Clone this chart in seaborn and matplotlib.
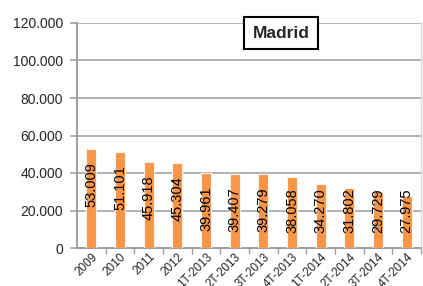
import matplotlib
matplotlib.use("Agg")
import matplotlib.pyplot as plt
import matplotlib.ticker as mticker
import seaborn as sns
import pandas as pd

periods = ["2009", "2010", "2011", "2012", "1T-2013", "2T-2013", "3T-2013", "4T-2013",
           "1T-2014", "2T-2014", "3T-2014", "4T-2014"]
values = [53009, 51101, 45918, 45304, 39961, 39407, 39279, 38058,
          34270, 31802, 29729, 27975]
y_ticks = [0, 20000, 40000, 60000, 80000, 100000, 120000]
title = "Madrid"

sns.set_style("white")
plt.rcParams["font.family"] = ["Liberation Sans", "DejaVu Sans"]

df = pd.DataFrame({"periodo": periods, "valor": values})

fig = plt.figure(figsize=(4.23, 2.86), dpi=100)
ax = fig.add_axes([77 / 423, 38 / 286, 344 / 423, 225 / 286])

sns.barplot(data=df, x="periodo", y="valor", color="#f79646", width=0.36,
            saturation=1, edgecolor="#f4f4f4", linewidth=0.8, ax=ax, zorder=3)

ax.set_ylim(0, 120000)
ax.set_yticks(y_ticks)
ax.yaxis.set_major_formatter(mticker.FuncFormatter(
    lambda v, p: f"{int(v):,}".replace(",", ".")))
ax.grid(axis="y", color="#a6a6a6", linewidth=1.2, zorder=0)
ax.set_xlabel("")
ax.set_ylabel("")

ax.spines["top"].set_visible(False)
ax.spines["left"].set_color("#a0a0a0")
ax.spines["left"].set_linewidth(1.5)
ax.spines["bottom"].set_color("#a0a0a0")
ax.spines["bottom"].set_linewidth(1.5)
ax.spines["right"].set_color("#d9d9d9")
ax.spines["right"].set_linewidth(1.0)

ax.tick_params(axis="y", length=5, width=1.2, color="#a0a0a0", labelsize=10,
               pad=5, left=True)
ax.set_xticks([i + 0.5 for i in range(len(periods))], minor=True)
ax.tick_params(axis="x", which="major", length=0, labelsize=8.5, pad=2)
ax.tick_params(axis="x", which="minor", length=4, width=1.0, color="#a0a0a0",
               bottom=True)
for lbl in ax.get_xticklabels():
    lbl.set_rotation(45)
    lbl.set_ha("right")
    lbl.set_rotation_mode("anchor")

# value labels inside the bars, kept above the base
for i, v in enumerate(values):
    top = max(v - 7000, 32000)
    ax.text(i, top, f"{v:,}".replace(",", "."), rotation=90, ha="center", va="top",
            fontsize=10.5, color="black", zorder=4)

fig.text(281 / 423, 1 - 33 / 286, title, ha="center", va="center", fontsize=12.5,
         fontweight="bold",
         bbox=dict(boxstyle="square,pad=0.5", facecolor="white",
                   edgecolor="black", linewidth=1.5), zorder=10)

fig.savefig("out.png", dpi=100)
